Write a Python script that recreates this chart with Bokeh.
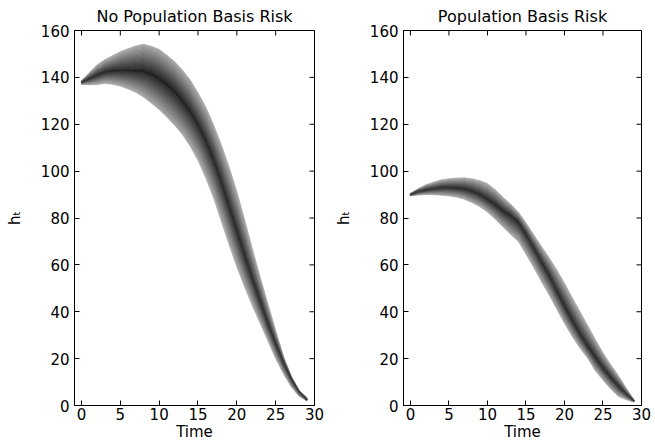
import numpy as np
from bokeh.plotting import figure
from bokeh.layouts import row
from bokeh.models import ColumnDataSource, FixedTicker, Range1d
from bokeh.embed import file_html
from bokeh.resources import INLINE

# ---------------- data ----------------
time = list(range(30))

left_title = "No Population Basis Risk"
left_mid = [138, 139.5, 141, 142.3, 142.8, 143, 143, 142.8, 142.6, 141.5,
            139.5, 137, 134, 130, 125.5, 120, 113, 105, 95.5, 85,
            74.5, 64, 54, 44.5, 35, 26.5, 18.5, 11.5, 6, 2.5]
left_hi = [138.5, 142, 145.4, 147.6, 149.3, 151, 152.3, 153.5, 154.2, 153.3,
           152, 149.5, 146.8, 143.2, 139, 133.5, 127.5, 120, 111.5, 102,
           91.5, 79.5, 67, 55, 43.5, 32, 21, 12.5, 6.5, 3.5]
left_lo = [137, 136.8, 136.9, 137.4, 137, 136.2, 135, 133.6, 131.5, 129,
           126.2, 123, 119.5, 115.5, 110.5, 104.5, 97, 88.5, 78.5, 68.5,
           59, 50.5, 42.5, 35, 27.5, 20, 13.5, 8, 4, 2]

right_title = "Population Basis Risk"
right_mid = [90, 91.3, 92, 92.5, 92.9, 93, 92.8, 92.4, 91.5, 90,
             88, 85.8, 83.2, 81.2, 78.4, 73.2, 67.4, 61.4, 55.6, 48.9,
             42.4, 36.3, 30.5, 25.2, 20.6, 16, 12, 8.4, 5, 2]
right_hi = [90.5, 92.5, 94.2, 95.3, 96.3, 96.8, 97.1, 97.2, 96.8, 96,
            94.7, 92.2, 89, 86, 82.6, 78, 73, 68, 63.2, 58,
            52.3, 46.2, 40.2, 34.3, 28.3, 22.5, 17.5, 12.8, 7.5, 2.5]
right_lo = [89.5, 89.8, 90, 89.9, 89.7, 89.4, 88.9, 88, 86.5, 84.8,
            82.5, 79.5, 76.2, 73, 70, 64.5, 58.9, 52.8, 47.2, 41,
            35, 29.4, 24.5, 20.2, 14.8, 10.8, 7, 3.8, 2.5, 1.5]

x_ticks = [0, 5, 10, 15, 20, 25, 30]
y_ticks = [0, 20, 40, 60, 80, 100, 120, 140, 160]
x_label = "Time"
y_label = "h\u209c"

FONT = "DejaVu Sans"
N_LEVELS = 22


def gray(v):
    v = int(max(0, min(255, round(v))))
    return "#%02x%02x%02x" % (v, v, v)


def fan_source(mid, hi, lo):
    t = np.array(time, dtype=float)
    m = np.array(mid, dtype=float)
    h = np.array(hi, dtype=float)
    l = np.array(lo, dtype=float)
    xs, ys, fills, lines = [], [], [], []
    for k in range(N_LEVELS):
        f = 1.0 - k / N_LEVELS
        up = m + f * (h - m)
        dn = m - f * (m - l)
        xs.append(list(t) + list(t[::-1]))
        ys.append(list(up) + list(dn[::-1]))
        g = 155 - (155 - 28) * k / (N_LEVELS - 1)
        fills.append(gray(g))
        lines.append(gray(g + 34))
    return ColumnDataSource(dict(xs=xs, ys=ys, fill=fills, line=lines))


def make_panel(title, mid, hi, lo, width, bl, br):
    p = figure(width=width, height=443, output_backend="svg",
               toolbar_location=None, title=title,
               x_range=Range1d(-0.9, x_ticks[-1]),
               y_range=Range1d(y_ticks[0], y_ticks[-1]),
               min_border_left=bl, min_border_right=br,
               min_border_top=29, min_border_bottom=38)
    p.patches(xs="xs", ys="ys", fill_color="fill", line_color="line",
              line_width=0.6, source=fan_source(mid, hi, lo))

    # inward tick marks on the top and right edges (box style)
    p.scatter(x=x_ticks, y=[y_ticks[-1]] * len(x_ticks), marker="dash",
              angle=np.pi / 2, size=10, line_color="black", line_width=1)
    p.scatter(x=[x_ticks[-1]] * len(y_ticks), y=y_ticks, marker="dash",
              size=10, line_color="black", line_width=1)

    p.grid.visible = False
    p.outline_line_color = "black"
    p.outline_line_width = 1
    p.background_fill_color = "white"
    p.border_fill_color = "white"

    p.title.align = "center"
    p.title.text_font = FONT
    p.title.text_font_size = "16px"
    p.title.text_font_style = "normal"
    p.title.text_color = "black"
    p.title.standoff = 9

    p.xaxis.ticker = FixedTicker(ticks=x_ticks)
    p.yaxis.ticker = FixedTicker(ticks=y_ticks)
    p.xaxis.axis_label = x_label
    p.yaxis.axis_label = y_label
    for ax in (p.xaxis[0], p.yaxis[0]):
        ax.major_tick_in = 5
        ax.major_tick_out = 0
        ax.minor_tick_line_color = None
        ax.axis_line_color = "black"
        ax.major_tick_line_color = "black"
        ax.major_label_text_font = FONT
        ax.major_label_text_font_size = "15px"
        ax.major_label_text_color = "black"
        ax.axis_label_text_font = FONT
        ax.axis_label_text_font_size = "15px"
        ax.axis_label_text_font_style = "normal"
        ax.axis_label_text_color = "black"
    p.xaxis.major_label_standoff = 2
    p.xaxis.axis_label_standoff = 0
    p.yaxis.major_label_standoff = 5
    p.yaxis.axis_label_standoff = 14
    return p


p_left = make_panel(left_title, left_mid, left_hi, left_lo, 330, 74, 16)
p_right = make_panel(right_title, right_mid, right_hi, right_lo, 325, 73, 14)

layout = row(p_left, p_right)
open("out.html", "w").write(file_html(layout, INLINE))
